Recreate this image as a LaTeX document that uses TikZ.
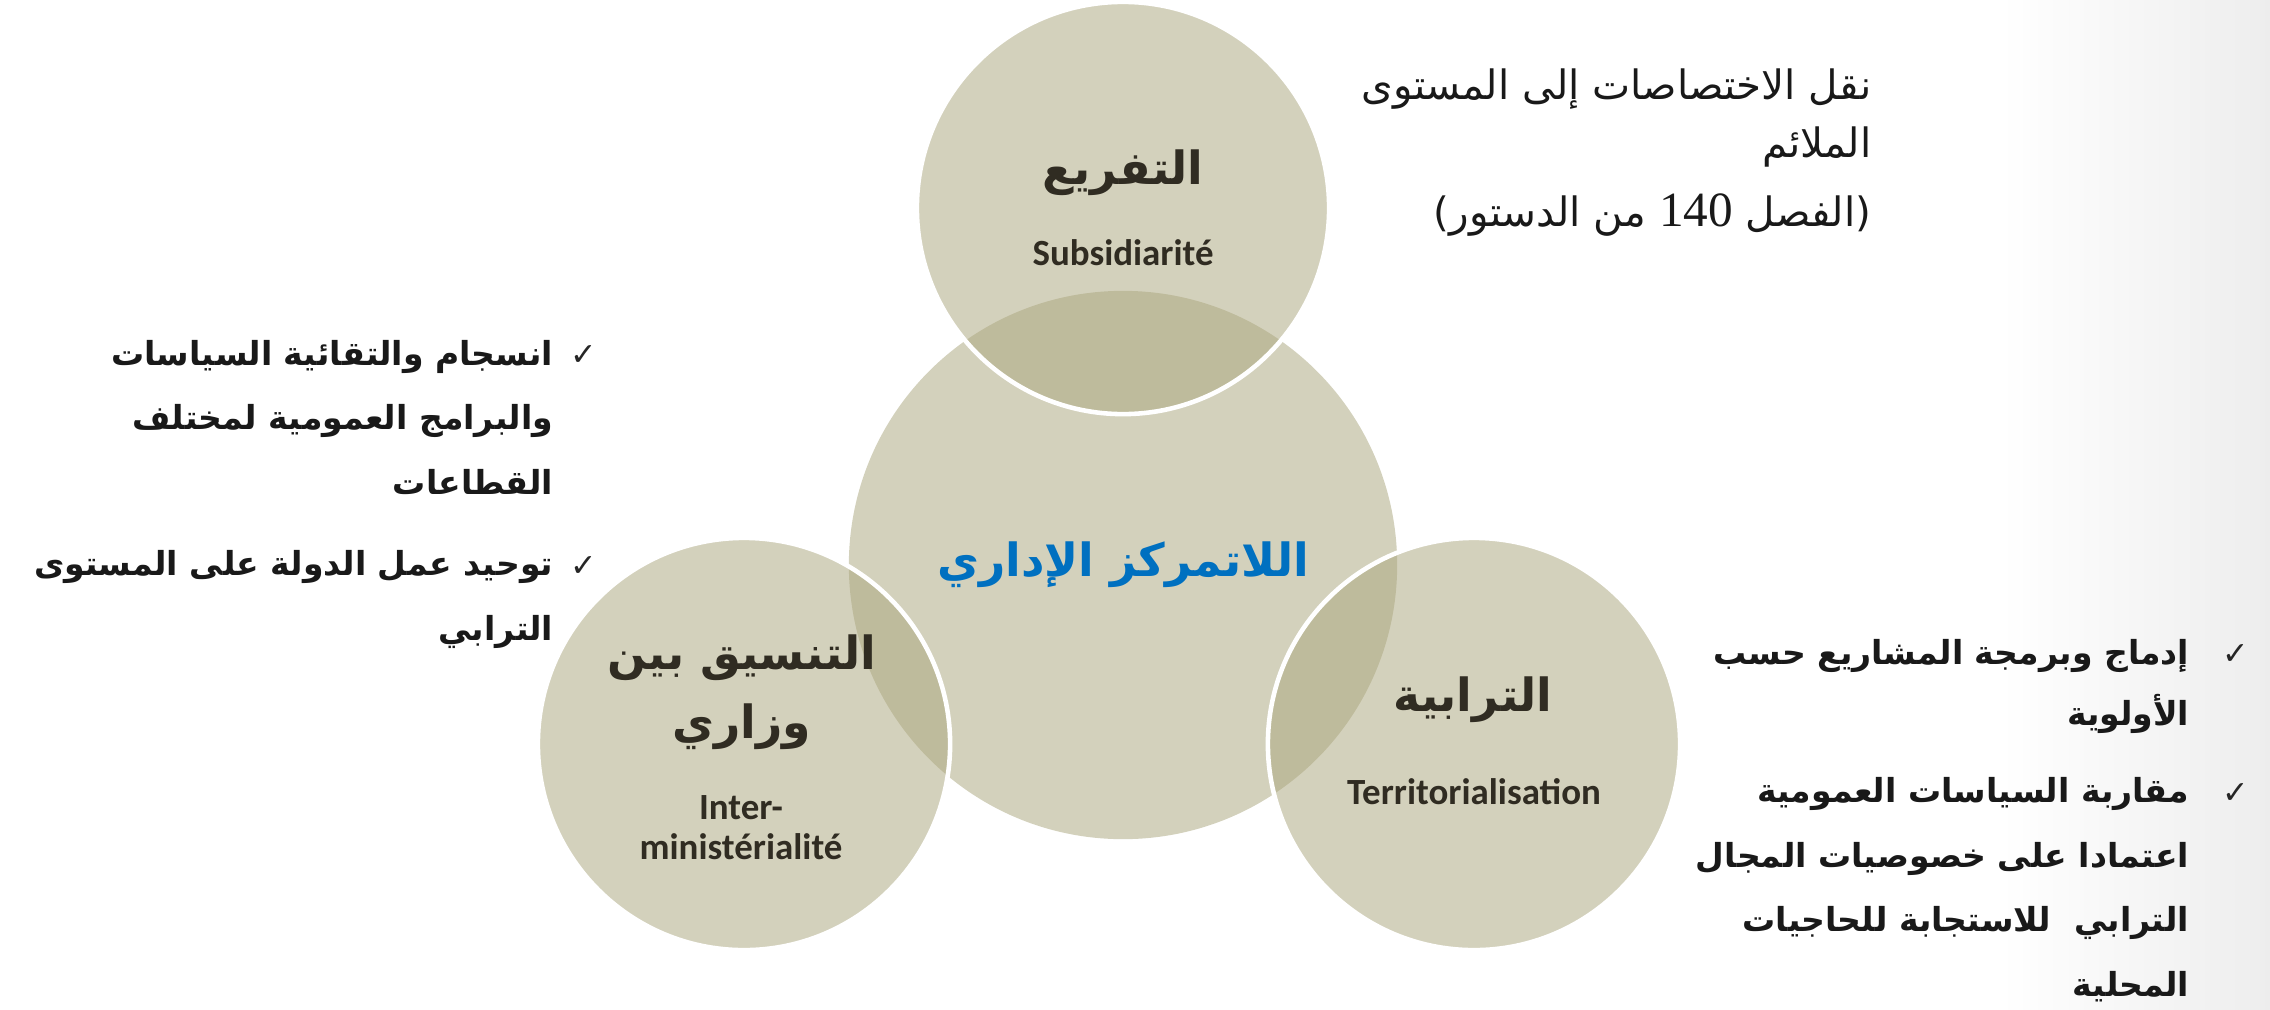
\documentclass[tikz,border=0pt]{standalone}
\usepackage{fontspec}
\setmainfont{DejaVu Sans}
\newfontfamily\arabicfont[Script=Arabic]{DejaVu Sans}
\newfontfamily\latinfont{Carlito}
\newfontfamily\numfont{Liberation Serif}
\newfontfamily\symfont{DejaVu Sans}
\TeXXeTstate=1

\definecolor{hubfill}{RGB}{211,209,188}
\definecolor{petalfill}{RGB}{171,167,127}
\definecolor{ink}{RGB}{48,44,34}
\definecolor{hubblue}{RGB}{0,112,192}

% right-to-left line
\newcommand{\rtl}[1]{\beginR #1\endR}

\begin{document}
\begin{tikzpicture}[x=0.01cm, y=-0.01cm,
    hub/.style={circle, fill=hubfill, minimum size=5.48cm, inner sep=0pt},
    petal/.style={circle, fill=petalfill, fill opacity=0.52, draw=white,
        line width=1.3pt, minimum size=4.12cm, inner sep=0pt},
    artitle/.style={font=\arabicfont\bfseries\fontsize{13}{19.5}\selectfont,
        text=ink, align=center, inner sep=0pt},
    frtitle/.style={font=\latinfont\bfseries\fontsize{10.5}{11.4}\selectfont,
        text=ink, align=center, inner sep=0pt},
    note/.style={font=\arabicfont\bfseries\fontsize{9.4}{18.3}\selectfont,
        text=black!90, align=right, anchor=base east, inner sep=0pt},
    tick/.style={font=\symfont\fontsize{9}{9}\selectfont, text=black!85,
        anchor=base, inner sep=0pt}]
    \useasboundingbox (0, 0) rectangle (2270, 1009);
    \shade[left color=white, right color=black!7] (2000, 0) rectangle (2270, 1009);

    % the four circles
    \node[hub] (hub) at (1123, 565) {};
    \node[petal] (subsid) at (1123, 208) {};
    \node[petal] (interm) at (744, 744) {};
    \node[petal] (territ) at (1474, 744) {};

    % circle labels
    \node[artitle, text=hubblue] (hubAr) at (1123, 565) {\rtl{اللاتمركز الإداري}};
    \node[artitle] (subsidAr) at (1123, 173) {\rtl{التفريع}};
    \node[frtitle] (subsidFr) at (1123, 253) {Subsidiarité};
    \node[artitle] (intermAr) at (742, 692) {\rtl{التنسيق بين}\\\rtl{وزاري}};
    \node[frtitle] (intermFr) at (741, 828) {Inter-\\ministérialité};
    \node[artitle] (territAr) at (1473, 700) {\rtl{الترابية}};
    \node[frtitle] (territFr) at (1474, 792) {Territorialisation};

    % subsidiarity note (anchored on its last line)
    \node[note, font=\arabicfont\fontsize{11.5}{16.5}\selectfont, text=black!90] (subsidNote) at (1872, 226)
        {\rtl{نقل الاختصاصات إلى المستوى}\\\rtl{الملائم}\\[0.1cm]
         \rtl{(الفصل \beginL{\numfont\fontsize{14}{14}\selectfont 140}\endL{} من الدستور)}};

    % inter-ministerial notes
    \node[tick] (intermTickA) at (584, 365) {✓};
    \node[note] (intermNoteA) at (554, 494)
        {\rtl{انسجام والتقائية السياسات}\\\rtl{والبرامج العمومية لمختلف}\\\rtl{القطاعات}};
    \node[tick] (intermTickB) at (584, 576) {✓};
    \node[note] (intermNoteB) at (554, 640)
        {\rtl{توحيد عمل الدولة على المستوى}\\\rtl{الترابي}};

    % territorial notes
    \node[tick] (territTickA) at (2236, 664) {✓};
    \node[note, font=\arabicfont\bfseries\fontsize{9.4}{17.2}\selectfont] (territNoteA) at (2190, 725)
        {\rtl{إدماج وبرمجة المشاريع حسب}\\\rtl{الأولوية}};
    \node[tick] (territTickB) at (2236, 803) {✓};
    \node[note] (territNoteB) at (2190, 996)
        {\rtl{مقاربة السياسات العمومية}\\\rtl{اعتمادا على خصوصيات المجال}\\
         \rtl{الترابي\ \ للاستجابة للحاجيات}\\\rtl{المحلية}};
\end{tikzpicture}
\end{document}
